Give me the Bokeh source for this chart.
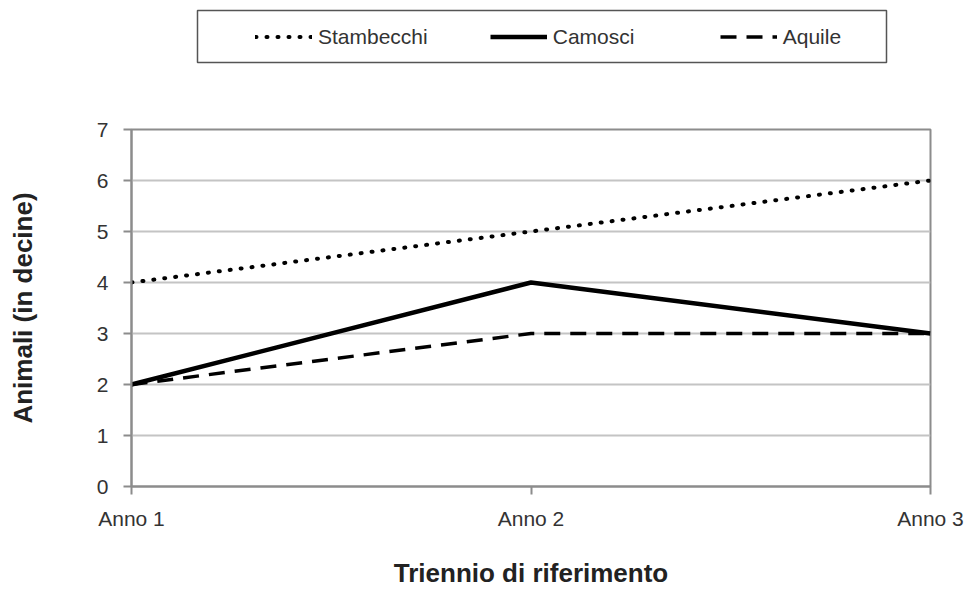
from bokeh.plotting import figure
from bokeh.models import Range1d, FixedTicker, Legend, LegendItem
from bokeh.layouts import column
from bokeh.embed import file_html
from bokeh.resources import INLINE

categories = ["Anno 1", "Anno 2", "Anno 3"]
x_pos = [0, 1, 2]
stambecchi = [4, 5, 6]
camosci = [2, 4, 3]
aquile = [2, 3, 3]
y_ticks = [0, 1, 2, 3, 4, 5, 6, 7]
series_names = ["Stambecchi", "Camosci", "Aquile"]

FONT = "Liberation Sans"
W = 968
H_LEG = 70
H_MAIN = 521

styles = [dict(line_color="black", line_width=4, line_dash="1 10", line_cap="round"),
          dict(line_color="black", line_width=4.5),
          dict(line_color="black", line_width=3.5, line_dash="16 10")]
series = [stambecchi, camosci, aquile]

# ---- legend strip (its frame is the legend box) ----
leg = figure(width=W, height=H_LEG, output_backend="svg", toolbar_location=None,
             x_axis_type=None, y_axis_type=None,
             x_range=Range1d(0, 2), y_range=Range1d(100, 101),
             min_border_left=197, min_border_right=W - 886,
             min_border_top=10, min_border_bottom=H_LEG - 62,
             frame_align=False)
leg.xgrid.grid_line_color = None
leg.ygrid.grid_line_color = None
leg.outline_line_color = "#555555"
leg.outline_line_width = 1.5
leg.border_fill_color = "white"
leg_items = []
for name, ys, st in zip(series_names, series, styles):
    r = leg.line(x_pos, ys, **st)
    leg_items.append(LegendItem(label=name, renderers=[r]))
legend = Legend(items=leg_items, orientation="horizontal", location=(58, 13),
                glyph_width=57, glyph_height=25, label_standoff=6,
                label_width=105, spacing=62, padding=0, margin=0,
                label_text_font=FONT, label_text_font_size="21px",
                label_text_color="#333333",
                border_line_color=None, background_fill_alpha=0)
leg.add_layout(legend, "center")

# ---- main chart ----
p = figure(width=W, height=H_MAIN, output_backend="svg", toolbar_location=None,
           x_range=Range1d(0, 2), y_range=Range1d(0, 7),
           min_border_left=131, min_border_right=W - 930,
           min_border_top=129 - H_LEG, min_border_bottom=H_MAIN - (486 - H_LEG),
           frame_align=False)
p.background_fill_color = "white"
p.border_fill_color = "white"
p.outline_line_color = "#8c8c8c"
p.outline_line_width = 2

for ys, st in zip(series, styles):
    p.line(x_pos, ys, **st)

p.xaxis.ticker = FixedTicker(ticks=x_pos)
p.xaxis.major_label_overrides = {x: c for x, c in zip(x_pos, categories)}
p.yaxis.ticker = FixedTicker(ticks=y_ticks)

for ax in (p.xaxis, p.yaxis):
    ax.axis_line_color = "#8c8c8c"
    ax.axis_line_width = 2
    ax.major_tick_line_color = "#8c8c8c"
    ax.major_tick_line_width = 2
    ax.major_tick_out = 8
    ax.major_tick_in = 0
    ax.minor_tick_line_color = None
    ax.major_label_text_font = FONT
    ax.major_label_text_font_size = "21px"
    ax.major_label_text_color = "#333333"
    ax.axis_label_text_font = FONT
    ax.axis_label_text_font_style = "bold"
    ax.axis_label_text_font_size = "26px"
    ax.axis_label_text_color = "#222222"

p.xaxis.axis_label = "Triennio di riferimento"
p.yaxis.axis_label = "Animali (in decine)"
p.xaxis.major_label_standoff = 12
p.yaxis.major_label_standoff = 15
p.xaxis.axis_label_standoff = 25
p.yaxis.axis_label_standoff = 56

p.xgrid.grid_line_color = None
p.ygrid.grid_line_color = "#c4c4c4"
p.ygrid.grid_line_width = 2

layout = column(leg, p, spacing=0)
open("out.html", "w").write(file_html(layout, INLINE))
